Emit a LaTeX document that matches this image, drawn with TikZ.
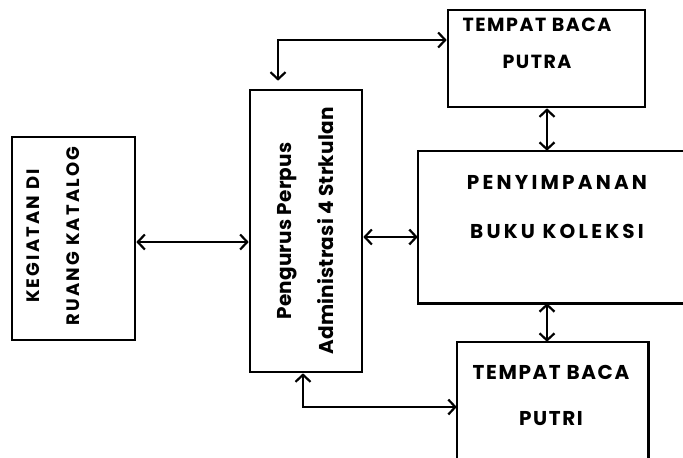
\documentclass[tikz,border=0pt]{standalone}
\usepackage{fontspec}
\setmainfont{Poppins}
\usetikzlibrary{arrows.meta}
\begin{document}
\begin{tikzpicture}[x=1pt,y=-1pt,
  box/.style={draw,line width=2.6pt,inner sep=0pt},
  hidden/.style={inner sep=0pt},
  lbl/.style={inner sep=0pt,align=center},
  arr/.style={line width=2.2pt,{Straight Barb[length=7pt,width=15pt]}-{Straight Barb[length=7pt,width=15pt]}}]
\useasboundingbox (0,0) rectangle (683,458);
\clip (0,0) rectangle (683,458);
% boxes
\node[box,minimum width=123,minimum height=203] (keg) at (73.5,238.5) {};
\node[box,minimum width=112,minimum height=282] (pengurus) at (306,231) {};
\node[box,minimum width=197,minimum height=97] (putra) at (546.5,58.5) {};
\node[hidden,minimum width=282,minimum height=152] (peny) at (559,227) {};
\draw[line width=2.6pt] (peny.north east) -- (peny.north west) -- (peny.south west) -- (peny.south east);
\node[hidden,minimum width=191,minimum height=128] (putri) at (552.5,406) {};
\draw[line width=2.6pt] (putri.south west) -- (putri.north west) -- (putri.north east) -- (putri.south east);
% labels
\node[lbl,rotate=90,font=\fontsize{18}{40}\selectfont\bfseries\addfontfeature{LetterSpace=12}] (kegt) at (53,236) {KEGIATAN DI\\RUANG KATALOG};
\node[lbl,rotate=90,font=\fontsize{20}{42}\selectfont\bfseries\addfontfeature{LetterSpace=1}] (pengt) at (306,231) {Pengurus Perpus\\Administrasi 4 Strkulan};
\node[lbl,font=\fontsize{19}{37}\selectfont\bfseries\addfontfeature{LetterSpace=8}] (putrat) at (537,43) {TEMPAT BACA\\PUTRA};
\node[lbl,font=\fontsize{20}{49}\selectfont\bfseries\addfontfeature{LetterSpace=16}] (penyt) at (557,207) {PENYIMPANAN\\BUKU KOLEKSI};
\node[lbl,font=\fontsize{20}{46}\selectfont\bfseries\addfontfeature{LetterSpace=8}] (putrit) at (551,395) {TEMPAT BACA\\PUTRI};
% connectors
\coordinate (ytop) at (0,40);
\coordinate (ybot) at (0,407);
\coordinate (ymid) at (0,237);
\coordinate (ykeg) at (0,242);
\coordinate (xv) at (547,0);
\draw[arr] (keg.east |- ykeg) -- (pengurus.west |- ykeg);
\draw[arr] (pengurus.east |- ymid) -- (peny.west |- ymid);
\draw[arr] ([xshift=-28pt,yshift=8pt]pengurus.north) |- (putra.west |- ytop);
\draw[arr] (xv |- putra.south) -- (xv |- peny.north);
\draw[arr] (xv |- peny.south) -- (xv |- putri.north);
\draw[arr] ([xshift=-3pt]pengurus.south) |- (putri.west |- ybot);
\end{tikzpicture}
\end{document}
